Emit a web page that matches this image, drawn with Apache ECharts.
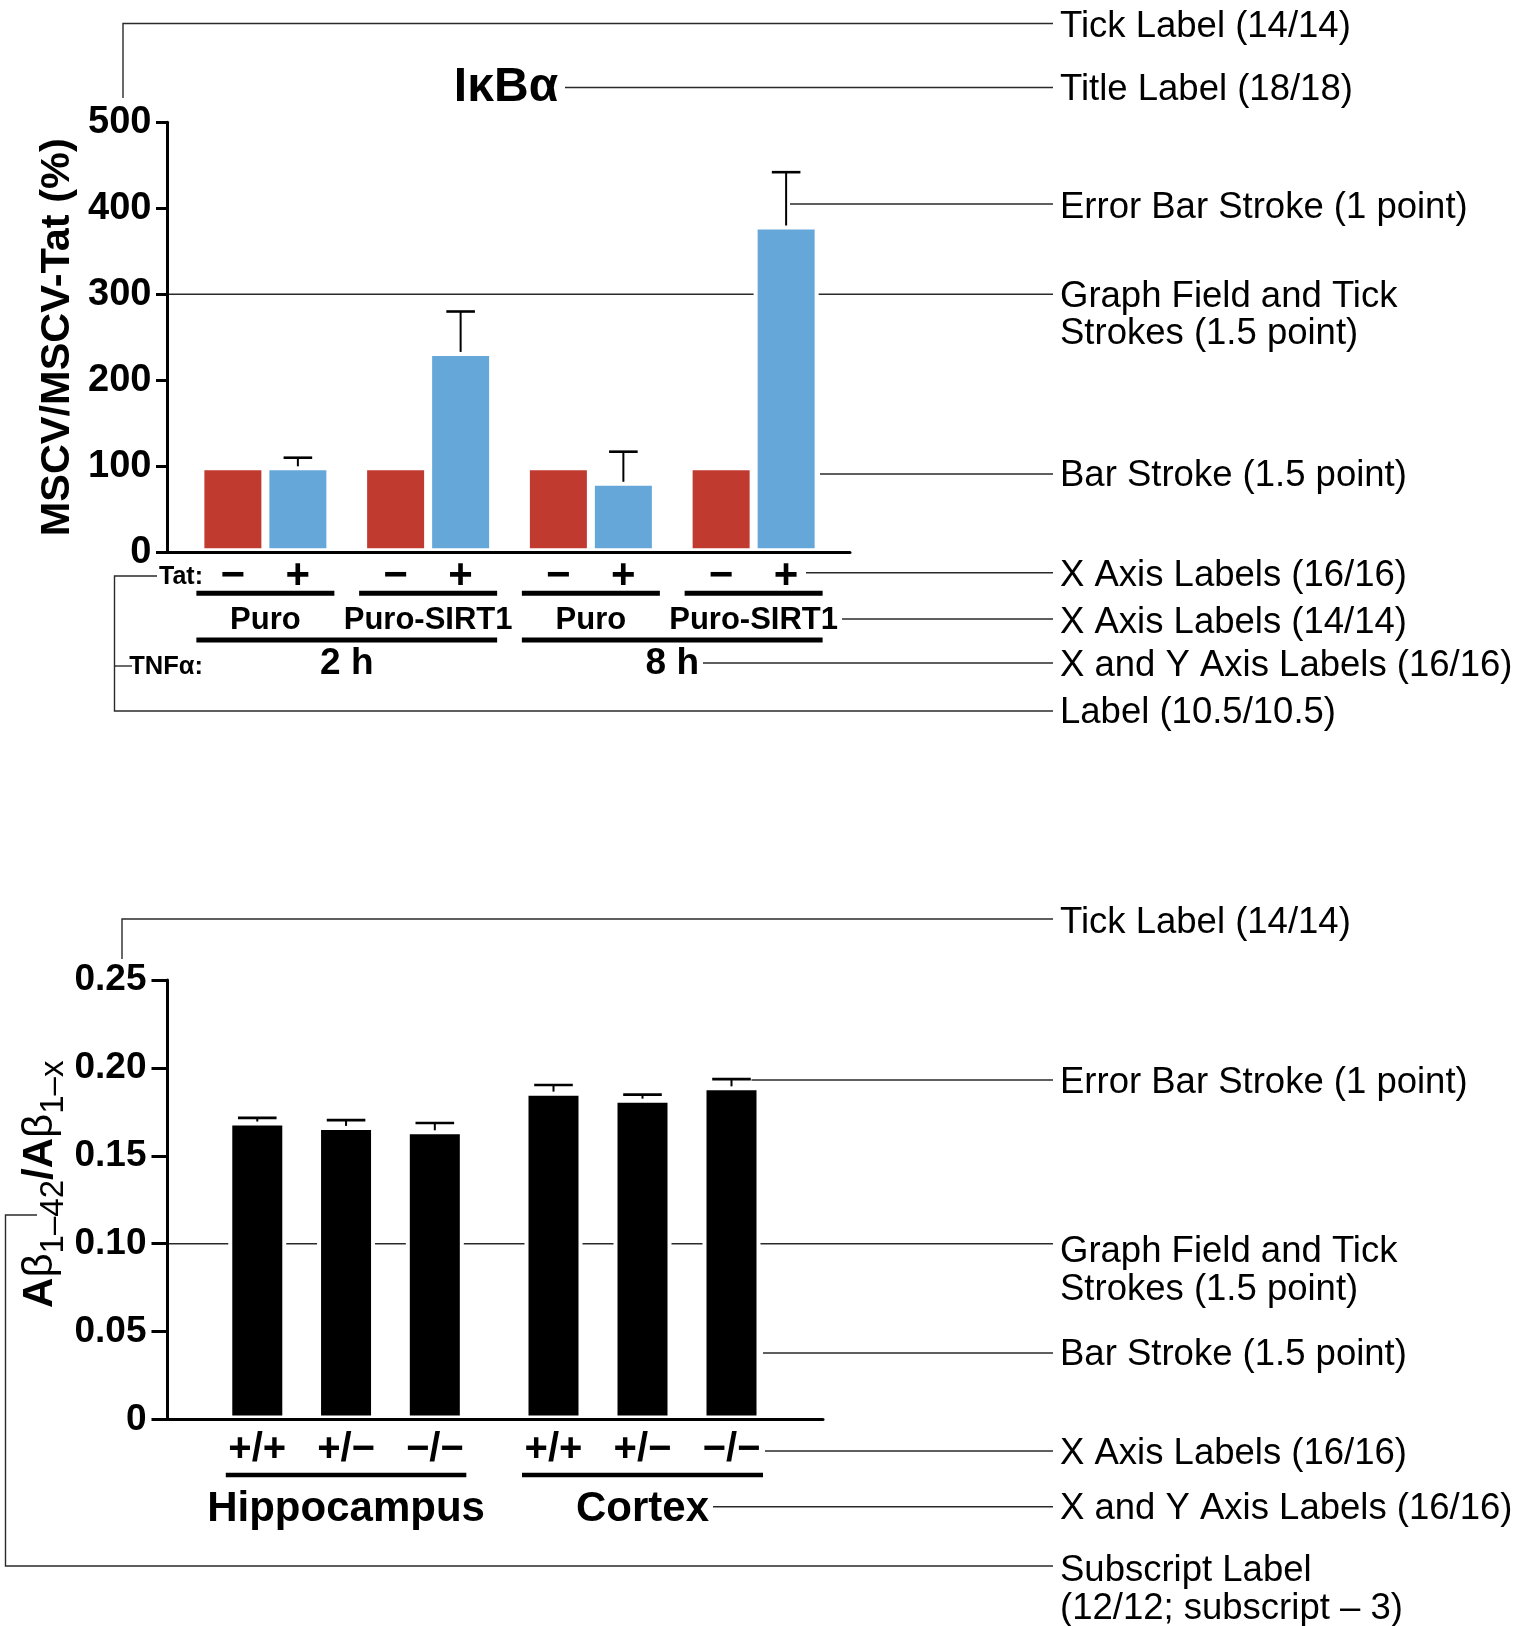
<!DOCTYPE html>
<html><head><meta charset="utf-8">
<script src="https://cdn.jsdelivr.net/npm/echarts@6/dist/echarts.min.js"></script>
<style>html,body{margin:0;padding:0;background:#fff}#c{width:1525px;height:1626px}</style>
</head><body><div id="c"></div>
<script>
// ---------------- data ----------------
const topTitle = 'IκBα';
const topYName = 'MSCV/MSCV-Tat (%)';
const topCategories = ['2 h Puro', '2 h Puro-SIRT1', '8 h Puro', '8 h Puro-SIRT1'];
const topGroupLabels = ['Puro', 'Puro-SIRT1', 'Puro', 'Puro-SIRT1'];
const topTimeLabels = ['2 h', '8 h'];
const tatSigns = ['−', '+'];
const tatMinus = [100, 100, 100, 100];
const tatPlus = [100, 233, 82, 380];
const tatPlusErr = [10, 47, 35, 62];

const genotypes = ['+/+', '+/−', '−/−'];
const regionLabels = ['Hippocampus', 'Cortex'];
const hippoRatio = [0.1695, 0.167, 0.1645];
const hippoErr = [0.0021, 0.0033, 0.0042];
const cortexRatio = [0.1865, 0.1825, 0.1895];
const cortexErr = [0.0038, 0.0023, 0.0041];

const annTop = ['Tick Label (14/14)', 'Title Label (18/18)', 'Error Bar Stroke (1 point)',
  'Graph Field and Tick', 'Strokes (1.5 point)', 'Bar Stroke (1.5 point)', 'X Axis Labels (16/16)',
  'X Axis Labels (14/14)', 'X and Y Axis Labels (16/16)', 'Label (10.5/10.5)'];
const annBottom = ['Tick Label (14/14)', 'Error Bar Stroke (1 point)', 'Graph Field and Tick',
  'Strokes (1.5 point)', 'Bar Stroke (1.5 point)', 'X Axis Labels (16/16)',
  'X and Y Axis Labels (16/16)', 'Subscript Label', '(12/12; subscript – 3)'];

// ---------------- styles ----------------
const FONT = '"Liberation Sans", Arial, Helvetica, sans-serif';
const RED = '#C13A30', BLUE = '#66A7DA';
const chart = echarts.init(document.getElementById('c'), null, {width: 1525, height: 1626, renderer: 'canvas'});

function frameX(grid) {
  return {gridIndex: grid, type: 'value', min: 0, max: 1, z: 10,
    axisLine: {show: true, onZero: true, lineStyle: {color: '#000', width: 3}},
    axisTick: {show: false}, axisLabel: {show: false}, splitLine: {show: false}};
}
function hiddenY(grid, max) { return {gridIndex: grid, type: 'value', min: 0, max: max, show: false, splitLine: {show: false}}; }
function errRender(offset, capHalf) {
  return function (params, api) {
    const i = api.value(0), v = api.value(1), e = api.value(2);
    const b = api.coord([i, v]), t = api.coord([i, v + e]);
    const x = b[0] + offset;
    return {type: 'group', children: [
      {type: 'line', shape: {x1: x, y1: b[1], x2: x, y2: t[1]}, style: {stroke: '#000', lineWidth: 2}},
      {type: 'line', shape: {x1: x - capHalf, y1: t[1], x2: x + capHalf, y2: t[1]}, style: {stroke: '#000', lineWidth: 2.6}}
    ]};
  };
}
const genoLabel = {fontSize: 40, fontWeight: 'bold', fontFamily: FONT, color: '#000', margin: 30, verticalAlign: 'middle'};

const option = {
  animation: false,
  backgroundColor: '#fff',
  grid: [
    {left: 167.5, top: 122.3, width: 682.5, height: 430},
    {left: 184, top: 122.3, width: 651, height: 430},
    {left: 167.5, top: 980, width: 655.5, height: 439.5},
    {left: 212.9, top: 980, width: 266.3, height: 439.5},
    {left: 509, top: 980, width: 267, height: 439.5}
  ],
  xAxis: [
    frameX(0),
    {gridIndex: 1, type: 'category', data: topCategories, show: false},
    frameX(2),
    {gridIndex: 3, type: 'category', data: genotypes, axisLine: {show: false}, axisTick: {show: false}, axisLabel: genoLabel, splitLine: {show: false}},
    {gridIndex: 4, type: 'category', data: genotypes, axisLine: {show: false}, axisTick: {show: false}, axisLabel: genoLabel, splitLine: {show: false}}
  ],
  yAxis: [
    {gridIndex: 0, type: 'value', min: 0, max: 500, interval: 100, z: 10,
      axisLine: {show: true, lineStyle: {color: '#000', width: 3}},
      axisTick: {show: true, length: 11.5, lineStyle: {color: '#000', width: 3}},
      axisLabel: {fontSize: 38, fontWeight: 'bold', fontFamily: FONT, color: '#000', margin: 16, padding: [4, 0, 0, 0]},
      splitLine: {show: false},
      name: topYName, nameLocation: 'middle', nameGap: 110, nameRotate: 90,
      nameTextStyle: {fontSize: 41.5, fontWeight: 'bold', fontFamily: FONT, color: '#000', align: 'center', verticalAlign: 'middle'}},
    hiddenY(1, 500),
    {gridIndex: 2, type: 'value', min: 0, max: 0.25, interval: 0.05, z: 10,
      axisLine: {show: true, lineStyle: {color: '#000', width: 3}},
      axisTick: {show: true, length: 16, lineStyle: {color: '#000', width: 3}},
      axisLabel: {fontSize: 37, fontWeight: 'bold', fontFamily: FONT, color: '#000', margin: 21, padding: [4, 0, 0, 0],
        formatter: v => (Math.abs(v) < 1e-9 ? '0' : v.toFixed(2))},
      splitLine: {show: false},
      name: '{m|A}{g|β}{s|1–42}{m|/A}{g|β}{s|1–x}', nameLocation: 'middle', nameGap: 127, nameRotate: 90,
      nameTextStyle: {align: 'center', verticalAlign: 'middle', padding: [0, 0, 0, 31],
        rich: {
          m: {fontSize: 42, fontWeight: 'bold', fontFamily: FONT, color: '#000', lineHeight: 60},
          g: {fontSize: 42, fontWeight: 'normal', fontFamily: FONT, color: '#000', lineHeight: 60},
          s: {fontSize: 33, fontWeight: 'normal', fontFamily: FONT, color: '#000', lineHeight: 22, verticalAlign: 'bottom'}
        }}},
    hiddenY(3, 0.25),
    hiddenY(4, 0.25)
  ],
  series: [
    {name: 'Tat −', type: 'bar', xAxisIndex: 1, yAxisIndex: 1, data: tatMinus, barWidth: 65, barGap: '0%',
      itemStyle: {color: RED, borderColor: '#fff', borderWidth: 4}},
    {name: 'Tat +', type: 'bar', xAxisIndex: 1, yAxisIndex: 1, data: tatPlus, barWidth: 65, barGap: '0%',
      itemStyle: {color: BLUE, borderColor: '#fff', borderWidth: 4}},
    {name: 'Tat + err', type: 'custom', xAxisIndex: 1, yAxisIndex: 1, z: 5,
      data: tatPlus.map((v, i) => [i, v, tatPlusErr[i]]), renderItem: errRender(32.5, 14.3)},
    {name: 'Hippocampus', type: 'bar', xAxisIndex: 3, yAxisIndex: 3, data: hippoRatio, barWidth: 58,
      itemStyle: {color: '#000', borderColor: '#fff', borderWidth: 4}},
    {name: 'Hippocampus err', type: 'custom', xAxisIndex: 3, yAxisIndex: 3, z: 5,
      data: hippoRatio.map((v, i) => [i, v, hippoErr[i]]), renderItem: errRender(0, 19.3)},
    {name: 'Cortex', type: 'bar', xAxisIndex: 4, yAxisIndex: 4, data: cortexRatio, barWidth: 58,
      itemStyle: {color: '#000', borderColor: '#fff', borderWidth: 4}},
    {name: 'Cortex err', type: 'custom', xAxisIndex: 4, yAxisIndex: 4, z: 5,
      data: cortexRatio.map((v, i) => [i, v, cortexErr[i]]), renderItem: errRender(0, 19.3)}
  ]
};
chart.setOption(option);

// ---------------- annotations & x-axis label blocks ----------------
const px = (ax, i) => chart.convertToPixel({xAxisIndex: ax}, i);
const py = (ax, v) => chart.convertToPixel({yAxisIndex: ax}, v);
const G = [];
const DY = 2.5;
function text(x, y, s, size, weight, align) {
  G.push({type: 'text', x: x, y: y + DY, z: 20, style: {text: s, fill: '#000', fontSize: size, fontWeight: weight || 'bold',
    fontFamily: FONT, align: align || 'center', verticalAlign: 'middle'}});
}
function bar(x1, x2, y, h) { G.push({type: 'rect', z: 20, shape: {x: x1, y: y - h / 2, width: x2 - x1, height: h}, style: {fill: '#000'}}); }
function lead(points) { G.push({type: 'polyline', z: 1, shape: {points: points}, style: {stroke: '#2a2a2a', lineWidth: 1.4, fill: null}}); }
const LX = 1053, TX = 1060, AS = 36.5;

// top chart title
text(506, 85, topTitle, 48, 'bold');
// Tat / TNFα rows
text(203, 575, 'Tat:', 25, 'bold', 'right');
text(203, 664, 'TNFα:', 25.5, 'bold', 'right');
for (let i = 0; i < topCategories.length; i++) {
  const c = px(1, i);
  text(c - 32.5, 574, tatSigns[0], 42, 'bold');
  text(c + 32.5, 574, tatSigns[1], 42, 'bold');
  bar(c - 69, c + 69, 593.3, 5);
  text(c, 618, topGroupLabels[i], 31, 'bold');
}
for (let k = 0; k < topTimeLabels.length; k++) {
  const a = px(1, 2 * k), b = px(1, 2 * k + 1);
  bar(a - 69, b + 69, 640, 5);
  text((a + b) / 2, 661.5, topTimeLabels[k], 37, 'bold');
}
// bottom chart region labels
[[3, 0], [4, 1]].forEach(([ax, k]) => {
  const a = px(ax, 0), b = px(ax, genotypes.length - 1);
  bar(a - 31.5, b + 31.5, 1475, 4.7);
  text((a + b) / 2, 1506.7, regionLabels[k], 42, 'bold');
});

// top annotation leaders
const y300 = py(0, 300);
lead([[123, 98], [123, 23.5], [LX, 23.5]]);
lead([[565, 87.5], [LX, 87.5]]);
lead([[790, 204], [LX, 204]]);
lead([[168, y300], [LX, y300]]);
lead([[820, 474], [LX, 474]]);
lead([[806, 572.7], [LX, 572.7]]);
lead([[842, 619], [LX, 619]]);
lead([[703, 663], [LX, 663]]);
lead([[157, 576], [114.5, 576], [114.5, 711], [LX, 711]]);
lead([[114.5, 666], [132, 666]]);
const annTopY = [24.4, 87.3, 205.5, 294.5, 331.2, 473.7, 573.3, 620.3, 663.4, 710.4];
annTop.forEach((s, i) => text(TX, annTopY[i], s, AS, 'normal', 'left'));

// bottom annotation leaders
const y010 = py(2, 0.10);
lead([[122, 959], [122, 919], [LX, 919]]);
lead([[751.5, 1080], [LX, 1080]]);
lead([[168, y010], [LX, y010]]);
lead([[763, 1353], [LX, 1353]]);
lead([[765, 1451], [LX, 1451]]);
lead([[713, 1506.7], [LX, 1506.7]]);
lead([[37, 1215], [5.5, 1215], [5.5, 1566], [LX, 1566]]);
const annBotY = [920.5, 1080.5, 1249, 1287, 1352.1, 1451.6, 1506.8, 1568.6, 1606.7];
annBottom.forEach((s, i) => text(TX, annBotY[i], s, AS, 'normal', 'left'));

chart.setOption({graphic: {elements: G}});
</script>
</body></html>
